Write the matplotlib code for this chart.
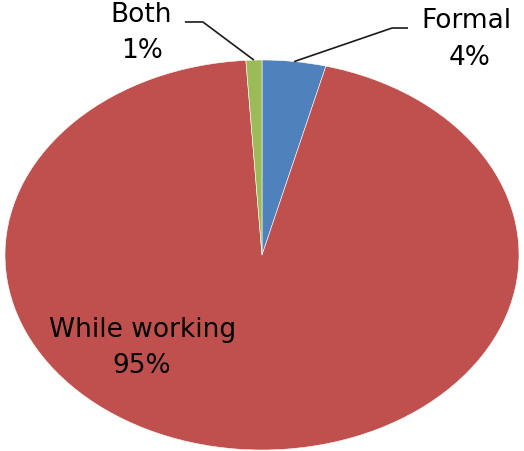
import numpy as np
import matplotlib
matplotlib.use("Agg")
import matplotlib.pyplot as plt

categories = ["Formal", "While working", "Both"]
shares = [4, 95, 1]
colors = ["#4F81BD", "#C0504D", "#9BBB59"]

W, H = 524, 451
fig = plt.figure(figsize=(W / 100, H / 100), dpi=100)
# pie spans the full width and is squashed vertically into an ellipse
ax = fig.add_axes([5 / W, 1 / H, 514 / W, 390 / H])
wedges, _ = ax.pie(shares, colors=colors, startangle=90, counterclock=False,
                   wedgeprops=dict(linewidth=0.4, edgecolor="white"))
ax.set_aspect("auto")
ax.set_xlim(-1, 1)
ax.set_ylim(-1, 1)
ax.axis("off")

font = dict(family="DejaVu Sans", fontsize=19, color="#000000",
            ha="center", va="baseline", clip_on=False)


def mid_point(w, r=1.0):
    ang = np.deg2rad((w.theta1 + w.theta2) / 2)
    return r * np.cos(ang), r * np.sin(ang)


def label(x, y_name, y_pct, name, pct, dx_pct=0.0):
    ax.text(x, y_name, name, **font)
    ax.text(x + dx_pct, y_pct, f"{pct}%", **font)


# Formal: label outside top-right with leader line
label(0.794, 1.164, 0.974, categories[0], shares[0], dx_pct=0.015)
x0, y0 = mid_point(wedges[0])
ax.plot([x0, 0.506, 0.568], [y0, 1.164, 1.164], color="#1a1a1a", lw=1.2,
        clip_on=False, solid_capstyle="butt")

# Both: label outside top-left with leader line
label(-0.471, 1.195, 1.010, categories[2], shares[2], dx_pct=0.004)
x2, y2 = mid_point(wedges[2])
ax.plot([x2, -0.23, -0.30], [y2, 1.195, 1.195], color="#1a1a1a", lw=1.2,
        clip_on=False, solid_capstyle="butt")

# While working: label inside the slice
label(-0.463, -0.421, -0.605, categories[1], shares[1], dx_pct=-0.004)

fig.savefig("out.png", dpi=100)
